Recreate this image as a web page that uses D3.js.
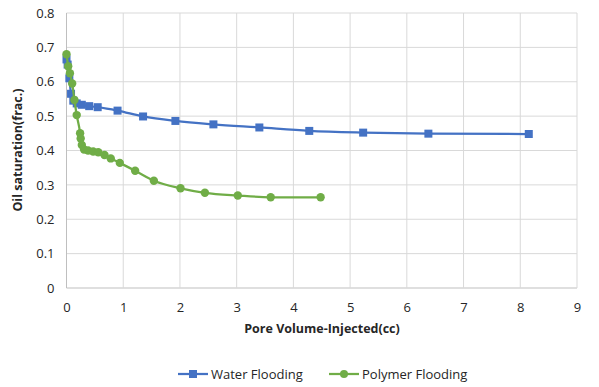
<!DOCTYPE html>
<html><head><meta charset="utf-8">
<script src="https://cdn.jsdelivr.net/npm/d3@7"></script>
<style>body{margin:0;background:#fff}text{font-family:"Open Sans","Liberation Sans",sans-serif;}</style>
</head><body><svg id="c" width="599" height="387"></svg>
<script>
const waterX = [0, 0.02, 0.05, 0.08, 0.12, 0.18, 0.27, 0.4, 0.55, 0.9, 1.35, 1.92, 2.59, 3.4, 4.28, 5.23, 6.38, 8.15];
const waterY = [0.665, 0.65, 0.61, 0.565, 0.545, 0.537, 0.533, 0.529, 0.526, 0.516, 0.499, 0.486, 0.476, 0.467, 0.457, 0.452, 0.449, 0.448];
const polyX = [0, 0.03, 0.06, 0.1, 0.14, 0.18, 0.24, 0.25, 0.27, 0.31, 0.38, 0.47, 0.56, 0.67, 0.78, 0.94, 1.21, 1.54, 2.01, 2.44, 3.02, 3.6, 4.48];
const polyY = [0.68, 0.645, 0.625, 0.595, 0.547, 0.503, 0.45, 0.435, 0.416, 0.403, 0.4, 0.397, 0.395, 0.387, 0.377, 0.364, 0.341, 0.312, 0.29, 0.277, 0.269, 0.264, 0.264];
const xTicks = [0,1,2,3,4,5,6,7,8,9];
const yTicks = [0,0.1,0.2,0.3,0.4,0.5,0.6,0.7,0.8];
const seriesNames = ["Water Flooding", "Polymer Flooding"];

const svg = d3.select("#c");
const x = d3.scaleLinear().domain([0,9]).range([66.5,577]);
const y = d3.scaleLinear().domain([0,0.8]).range([288,13]);

const g = svg.append("g");
// gridlines
g.selectAll(".hg").data(yTicks).join("line")
 .attr("x1",x(0)).attr("x2",x(9)).attr("y1",d=>y(d)).attr("y2",d=>y(d))
 .attr("stroke",d=>d===0?"#bfbfbf":"#d9d9d9").attr("stroke-width",1);
g.selectAll(".vg").data(xTicks).join("line")
 .attr("y1",y(0)).attr("y2",y(0.8)).attr("x1",d=>x(d)).attr("x2",d=>x(d))
 .attr("stroke",d=>d===0?"#bfbfbf":"#d9d9d9").attr("stroke-width",1);

// axes via d3 axis generators
const xAxis = d3.axisBottom(x).tickValues(xTicks).tickSize(0).tickPadding(15).tickFormat(d3.format("d"));
const yAxis = d3.axisLeft(y).tickValues(yTicks).tickSize(0).tickPadding(12).tickFormat(d=>d===0?"0":d3.format(".1f")(d));
const xa = svg.append("g").attr("transform",`translate(0,${y(0)})`).call(xAxis);
const ya = svg.append("g").attr("transform",`translate(${x(0)},0)`).call(yAxis);
[xa,ya].forEach(a=>{a.select(".domain").remove();a.selectAll("text").attr("font-size",13).attr("fill","#262626").style("font-family",'"Open Sans","Liberation Sans",sans-serif');});

const water = waterX.map((v,i)=>[v,waterY[i]]);
const poly = polyX.map((v,i)=>[v,polyY[i]]);
const line = d3.line().x(d=>x(d[0])).y(d=>y(d[1])).curve(d3.curveMonotoneX);

svg.append("path").datum(water).attr("d",line).attr("fill","none").attr("stroke","#4472C4").attr("stroke-width",2.25);
svg.selectAll(".ws").data(water).join("rect")
 .attr("x",d=>x(d[0])-4).attr("y",d=>y(d[1])-4).attr("width",8).attr("height",8).attr("fill","#4472C4");

svg.append("path").datum(poly).attr("d",line).attr("fill","none").attr("stroke","#70AD47").attr("stroke-width",2.25);
svg.selectAll(".pc").data(poly).join("circle")
 .attr("cx",d=>x(d[0])).attr("cy",d=>y(d[1])).attr("r",4.2).attr("fill","#70AD47");

// axis titles
svg.append("text").attr("x",322).attr("y",333).attr("text-anchor","middle").attr("font-size",12.5).attr("font-weight","bold").attr("fill","#262626").text("Pore Volume-Injected(cc)");
svg.append("text").attr("transform","translate(22,150) rotate(-90)").attr("text-anchor","middle").attr("font-size",12.5).attr("font-weight","bold").attr("fill","#262626").text("Oil saturation(frac.)");

// legend
const leg = svg.append("g");
const lg1 = leg.append("g").attr("transform","translate(178,374)");
lg1.append("line").attr("x1",0).attr("x2",30).attr("stroke","#4472C4").attr("stroke-width",2.25);
lg1.append("rect").attr("x",11).attr("y",-4).attr("width",8).attr("height",8).attr("fill","#4472C4");
lg1.append("text").attr("x",33).attr("y",5).attr("font-size",13).attr("fill","#262626").text(seriesNames[0]);
const lg2 = leg.append("g").attr("transform","translate(329,374)");
lg2.append("line").attr("x1",0).attr("x2",30).attr("stroke","#70AD47").attr("stroke-width",2.25);
lg2.append("circle").attr("cx",15).attr("cy",0).attr("r",4).attr("fill","#70AD47");
lg2.append("text").attr("x",33).attr("y",5).attr("font-size",13).attr("fill","#262626").text(seriesNames[1]);
</script></body></html>
